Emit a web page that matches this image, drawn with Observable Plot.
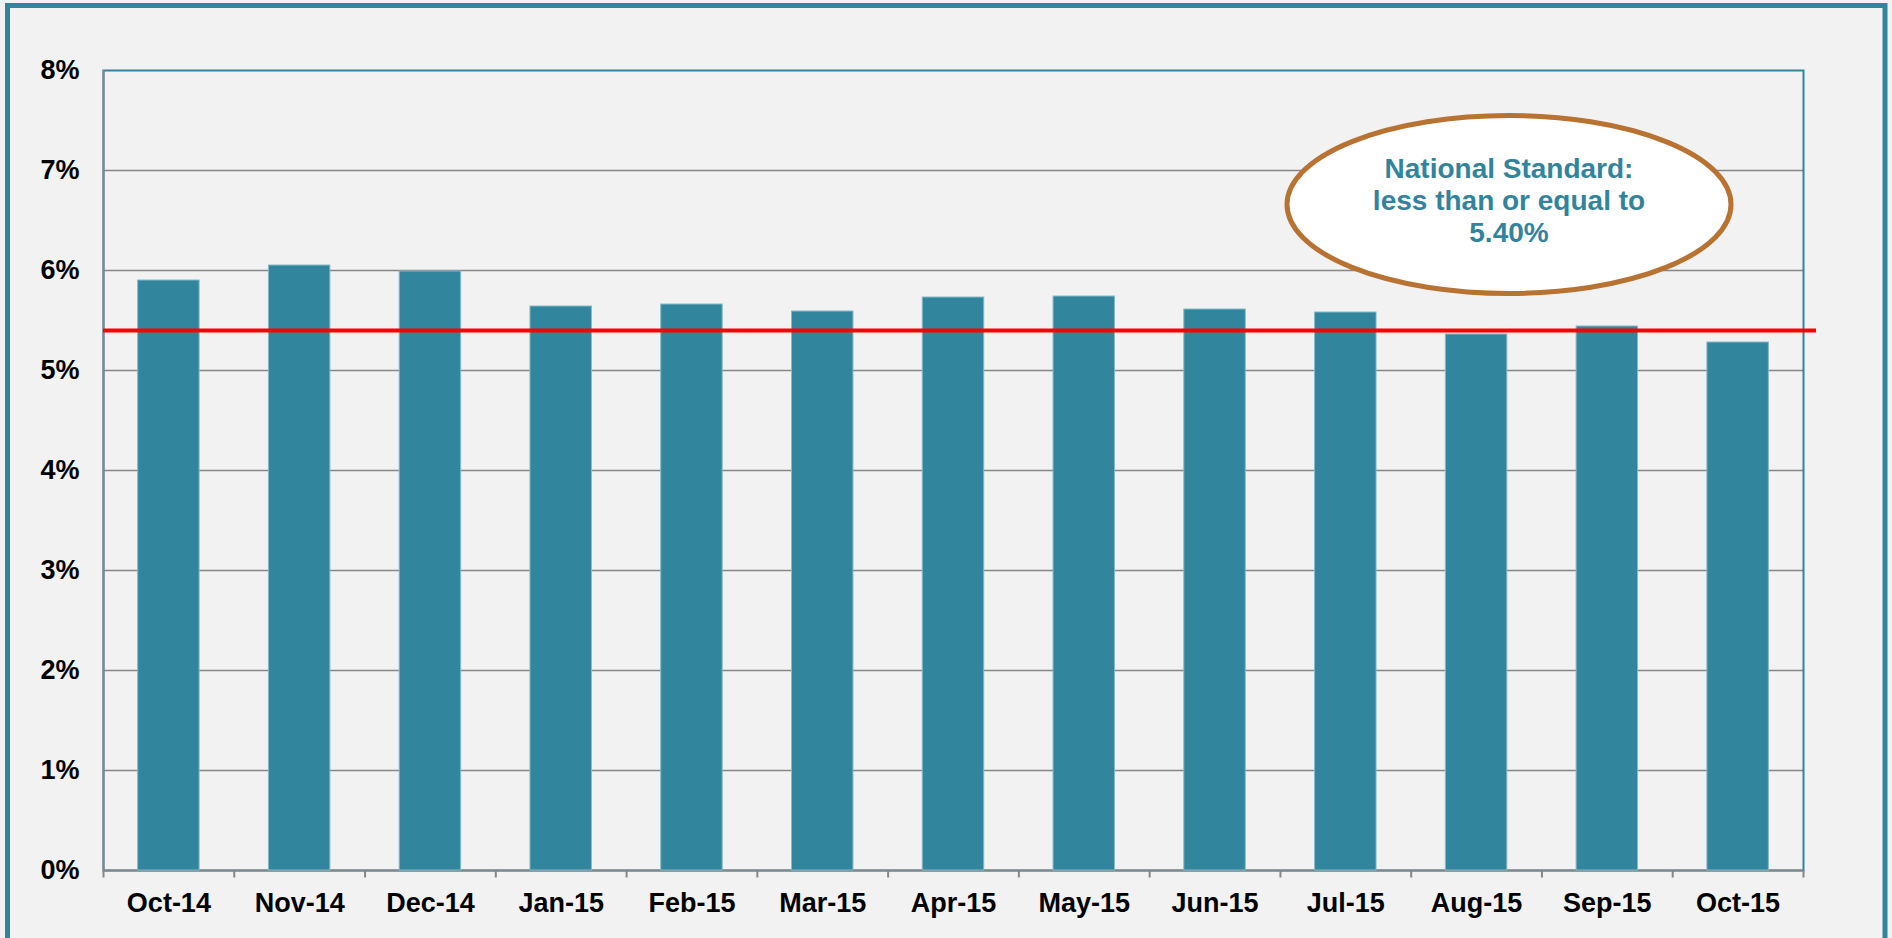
<!DOCTYPE html>
<html><head><meta charset="utf-8">
<script src="https://cdn.jsdelivr.net/npm/d3@7"></script>
<script src="https://cdn.jsdelivr.net/npm/@observablehq/plot@0.6"></script>
<style>
html,body{margin:0;padding:0;background:#f2f2f2;}
#chart{position:relative;width:1892px;height:938px;overflow:hidden;}
#chart svg{display:block;}
</style></head><body><div id="chart"></div>
<script>
const months = ["Oct-14","Nov-14","Dec-14","Jan-15","Feb-15","Mar-15","Apr-15","May-15","Jun-15","Jul-15","Aug-15","Sep-15","Oct-15"];
const rates = [5.90, 6.05, 5.99, 5.64, 5.66, 5.59, 5.73, 5.74, 5.61, 5.58, 5.36, 5.44, 5.28];
const yTicks = [0, 1, 2, 3, 4, 5, 6, 7, 8];
const standard = 5.40;
const noteLines = ["National Standard:", "less than or equal to", "5.40%"];

const W = 1892, H = 938, mL = 103, mR = 89, mT = 70, mB = 68;
const bw = (W - mL - mR) / months.length;
const data = months.map((m, i) => ({month: m, rate: rates[i]}));
const teal = "#31849b", grid = "#868686";

const plot = Plot.plot({
  width: W, height: H, marginLeft: mL, marginRight: mR, marginTop: mT, marginBottom: mB,
  style: {background: "#f2f2f2", fontFamily: "'Liberation Sans', Arial, sans-serif", fontSize: "27px", fontWeight: "bold", color: "#000", overflow: "visible"},
  x: {domain: months, padding: 0, round: false, label: null, tickSize: 0, tickPadding: 22},
  y: {domain: [0, 8], ticks: yTicks, tickFormat: d => d + "%", label: null, tickSize: 0, tickPadding: 24},
  marks: [
    Plot.ruleY(yTicks.filter(t => t > 0 && t < 8), {stroke: grid, strokeWidth: 1.5}),
    Plot.frame({stroke: teal, strokeWidth: 2}),
    Plot.ruleY([0], {stroke: grid, strokeWidth: 2}),
    Plot.ruleX([months[0]], {x: d => d, dx: -bw / 2, stroke: grid, strokeWidth: 2}),
    Plot.ruleX(months, {x: d => d, y1: 0, y2: -0.075, dx: -bw / 2, stroke: grid, strokeWidth: 2}),
    Plot.ruleX([months[months.length - 1]], {x: d => d, y1: 0, y2: -0.075, dx: bw / 2, stroke: grid, strokeWidth: 2}),
    Plot.barY(data, {x: "month", y: "rate", fill: "#31859c", stroke: "#86b9c9", strokeWidth: 1, insetLeft: bw * 0.265, insetRight: bw * 0.265}),
    Plot.ruleY([standard], {stroke: "#ff0000", strokeWidth: 4, insetRight: -13})
  ]
});

const svg = d3.select(plot);
// outer frame
svg.append("rect").attr("x", 7.5).attr("y", 5.5).attr("width", 1877.5).attr("height", 950)
  .attr("fill", "none").attr("stroke", teal).attr("stroke-width", 5);
// annotation ellipse
const cx = 1509, cy = 204.5;
svg.append("ellipse").attr("cx", cx).attr("cy", cy).attr("rx", 222).attr("ry", 89)
  .attr("fill", "#ffffff").attr("stroke", "#b87232").attr("stroke-width", 5);
const t = svg.append("text").attr("text-anchor", "middle").attr("fill", teal)
  .attr("font-size", 28).attr("font-weight", "bold").attr("font-family", "'Liberation Sans', Arial, sans-serif");
const baselines = [178, 210, 242];
noteLines.forEach((l, i) => t.append("tspan").attr("x", cx).attr("y", baselines[i]).text(l));

document.getElementById("chart").appendChild(plot);
</script>
</body></html>
